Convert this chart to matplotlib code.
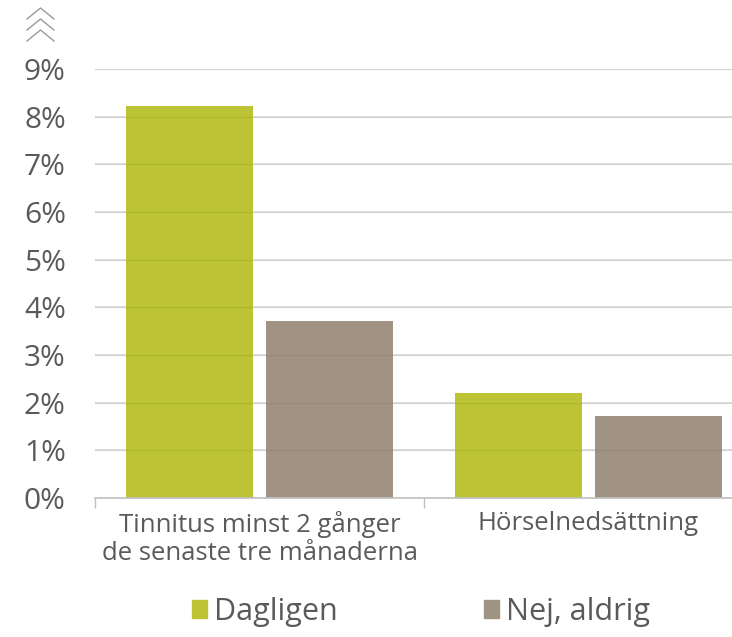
import matplotlib
matplotlib.use("Agg")
import matplotlib.pyplot as plt
import numpy as np
from matplotlib.lines import Line2D
from matplotlib.patches import Patch

categories = ["Tinnitus minst 2 gånger\nde senaste tre månaderna", "Hörselnedsättning"]
series_names = ["Dagligen", "Nej, aldrig"]
dagligen = [8.22, 2.2]
nej_aldrig = [3.72, 1.73]
yticks = [0, 1, 2, 3, 4, 5, 6, 7, 8, 9]
ytick_labels = [f"{v}%" for v in yticks]

colors = ["#bcc435", "#a09383"]
text_color = "#5a5a5a"
plt.rcParams['font.family'] = ['Open Sans', 'DejaVu Sans']

W, H = 732, 637
fig = plt.figure(figsize=(W/100, H/100), dpi=100)
left, right, bottom, top = 95, 753, 498, 69
ax = fig.add_axes([left/W, (H-bottom)/H, (right-left)/W, (bottom-top)/H])

x = np.arange(len(categories))
bw = 0.386
off = 0.213
ax.bar(x - off, dagligen, bw, color=colors[0], zorder=2)
ax.bar(x + off, nej_aldrig, bw, color=colors[1], zorder=2)

ax.set_xlim(-0.5, 1.5)
ax.set_ylim(0, 9)
ax.set_yticks(yticks)
ax.set_yticklabels(ytick_labels, fontsize=21.5, color=text_color)
ax.tick_params(axis='y', length=0, pad=21)
for v in yticks[1:]:
    ax.axhline(v, color="#d9d9d9", lw=1.2, zorder=1)
    ax.axhline(v, color="#000000", lw=1.0, alpha=0.06, zorder=3)

ax.set_xticks(x)
ax.set_xticklabels(categories, fontsize=18.5, color=text_color, linespacing=1.2)
ax.tick_params(axis='x', length=0, pad=9)
ax.set_xticks([-0.5, 0.5, 1.5], minor=True)
ax.tick_params(axis='x', which='minor', length=7, color="#bfbfbf", width=1)

for s in ['top', 'right', 'left']:
    ax.spines[s].set_visible(False)
ax.spines['bottom'].set_color("#bfbfbf")
ax.spines['bottom'].set_linewidth(1.2)

# chevron icon
for ay in [8, 19, 30]:
    xs = np.array([27, 40.5, 54]) / W
    ys = 1 - np.array([ay + 11, ay, ay + 11]) / H
    fig.add_artist(Line2D(xs, ys, color="#9a9a9a", lw=1.0, transform=fig.transFigure))

handles = [Patch(color=c) for c in colors]
fig.legend(handles, series_names, loc='center', bbox_to_anchor=(421/W, 1 - 612/H),
           ncol=2, frameon=False, prop={'size': 22},
           handlelength=0.5, handleheight=0.5,
           handletextpad=0.22, columnspacing=4.8, labelcolor=text_color)

fig.savefig("out.png", dpi=100)
